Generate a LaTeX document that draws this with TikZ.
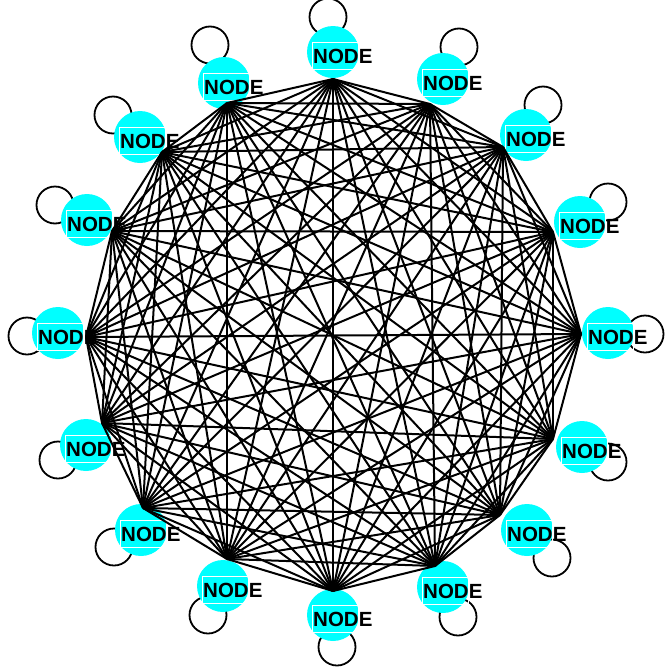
\documentclass[tikz,border=0pt]{standalone}
\usepackage{fontspec}
\setmainfont{Liberation Sans}
\usetikzlibrary{calc}
\definecolor{nodecyan}{RGB}{0,255,255}
\begin{document}
\begin{tikzpicture}[x=1pt,y=-1pt,
 nodecirc/.style={circle,fill=nodecyan,minimum size=52pt,inner sep=0pt},
 lbl/.style={font=\fontsize{20.5}{24}\selectfont\bfseries,inner sep=0pt,anchor=west},
 edgeline/.style={line width=2pt,black},
 loopline/.style={line width=1.8pt,black},
 textbox/.style={draw=white,line width=1pt}]
\useasboundingbox (0,0) rectangle (669,667);
\def\nodedata{0/333/52/333/79/328/17,
1/443/79/430/104/459/47,
2/526/135/503/147/543/105,
3/580/222/553/232/608/202,
4/608/333/581/334/645/334,
5/582/447/553/439/608/462,
6/527/530/500/515/552/558,
7/443/587/435/566/458/617,
8/333/615/333/591/337/647,
9/223/586/227/559/208/615,
10/141/530/143/508/114/547,
11/86/445/102/423/58/460,
12/58/333/86/337/27/336,
13/87/220/112/231/55/205,
14/140/137/162/152/113/115,
15/224/83/227/103/210/45}
% self loops (drawn first, behind the nodes)
\foreach \k/\px/\py/\cx/\cy/\lx/\ly in \nodedata {
  \coordinate (l\k) at (\lx,\ly);
  \draw[loopline] (l\k) circle (18.5);
}
% node circles
\foreach \k/\px/\py/\cx/\cy/\lx/\ly in \nodedata {
  \node[nodecirc] (n\k) at (\px,\py) {};
  \coordinate (c\k) at (\cx,\cy);
}
% label boxes and labels
\foreach \k/\px/\py/\cx/\cy/\lx/\ly in \nodedata {
  \draw[textbox] ($(n\k)+(-21,-10)$) rectangle ($(n\k)+(25,17)$);
  \node[lbl] (t\k) at ($(n\k)+(-20,4)$) {NODE};
}
% complete graph
\foreach \i in {0,...,14}{
  \pgfmathtruncatemacro\s{\i+1}
  \foreach \j in {\s,...,15}{
    \draw[edgeline] (c\i) -- (c\j);
  }
}
\end{tikzpicture}
\end{document}
